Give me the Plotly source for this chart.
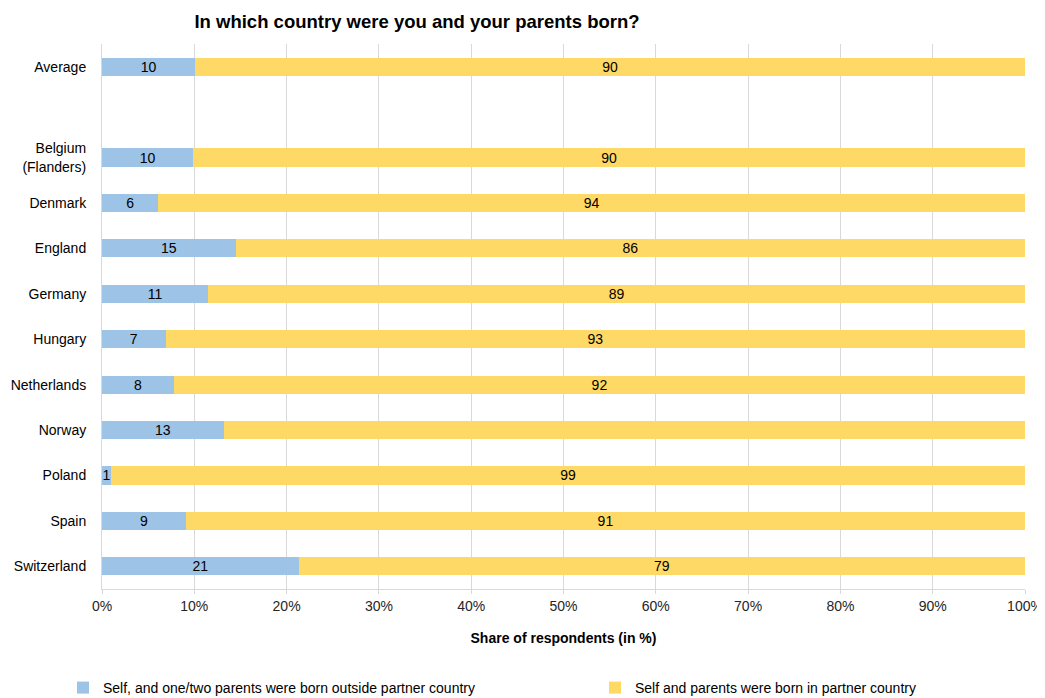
import plotly.graph_objects as go

categories = ["Average", "", "Belgium<br>(Flanders)", "Denmark", "England", "Germany",
              "Hungary", "Netherlands", "Norway", "Poland", "Spain", "Switzerland"]
outside_share = [10.1, None, 9.9, 6.1, 14.5, 11.5, 6.9, 7.8, 13.2, 1.0, 9.1, 21.3]
inside_share = [89.9, None, 90.1, 93.9, 85.5, 88.5, 93.1, 92.2, 86.8, 99.0, 90.9, 78.7]
outside_labels = ["10", "", "10", "6", "15", "11", "7", "8", "13", "1", "9", "21"]
inside_labels = ["90", "", "90", "94", "86", "89", "93", "92", "", "99", "91", "79"]
x_ticks = [0, 10, 20, 30, 40, 50, 60, 70, 80, 90, 100]
x_tick_labels = ["0%", "10%", "20%", "30%", "40%", "50%", "60%", "70%", "80%", "90%", "100%"]

ypos = list(range(len(categories)))
font = "Liberation Sans, Arial, sans-serif"

W, H = 1037, 690  # page body has an 8px margin

fig = go.Figure()
fig.add_trace(go.Bar(
    y=ypos, x=outside_share, orientation="h", width=0.4,
    name="Self, and one/two parents were born outside partner country",
    marker=dict(color="#9DC3E6", line=dict(width=0)),
    text=outside_labels, textposition="inside", insidetextanchor="middle", textangle=0,
    textfont=dict(size=14, color="#000000", family=font),
    constraintext="none", legend="legend",
))
fig.add_trace(go.Bar(
    y=ypos, x=inside_share, orientation="h", width=0.4,
    name="Self and parents were born in partner country",
    marker=dict(color="#FFD966", line=dict(width=0)),
    text=inside_labels, textposition="inside", insidetextanchor="middle", textangle=0,
    textfont=dict(size=14, color="#000000", family=font),
    constraintext="none", legend="legend2",
))

legend_common = dict(orientation="h", xref="container", xanchor="left",
                     y=1 - 680 / H, yref="container", yanchor="middle",
                     font=dict(size=14, color="#000000", family=font), itemwidth=30)

fig.update_layout(
    barmode="stack",
    width=W, height=H,
    paper_bgcolor="white", plot_bgcolor="white",
    margin=dict(l=94, r=20, t=36, b=109, autoexpand=False),
    font=dict(family=font, size=14, color="#262626"),
    title=dict(text="<b>In which country were you and your parents born?</b>",
               x=409 / W, xanchor="center", xref="container",
               y=1 - 14 / H, yanchor="middle", yref="container",
               font=dict(size=18.5, color="#000000", family=font)),
    uniformtext=dict(mode=False),
    showlegend=True,
    legend=dict(x=55 / W, **legend_common),
    legend2=dict(x=587 / W, **legend_common),
)
fig.update_xaxes(
    range=[0, 100], tickvals=x_ticks, ticktext=x_tick_labels,
    showgrid=True, gridcolor="#D9D9D9", gridwidth=1,
    showline=True, linecolor="#D9D9D9", linewidth=1,
    ticks="outside", ticklen=4, tickcolor="#D9D9D9",
    tickfont=dict(size=14, color="#262626"),
    title=dict(text="<b>Share of respondents (in %)</b>", standoff=20,
               font=dict(size=14, color="#000000")),
    zeroline=False, automargin=False,
)
fig.update_yaxes(
    range=[11.5, -0.5], tickvals=ypos, ticktext=categories,
    showgrid=False, showline=True, linecolor="#D9D9D9", linewidth=1,
    ticks="", ticklabelstandoff=12,
    tickfont=dict(size=14, color="#000000"),
    zeroline=False, automargin=False,
)

fig.write_html("out.html")
